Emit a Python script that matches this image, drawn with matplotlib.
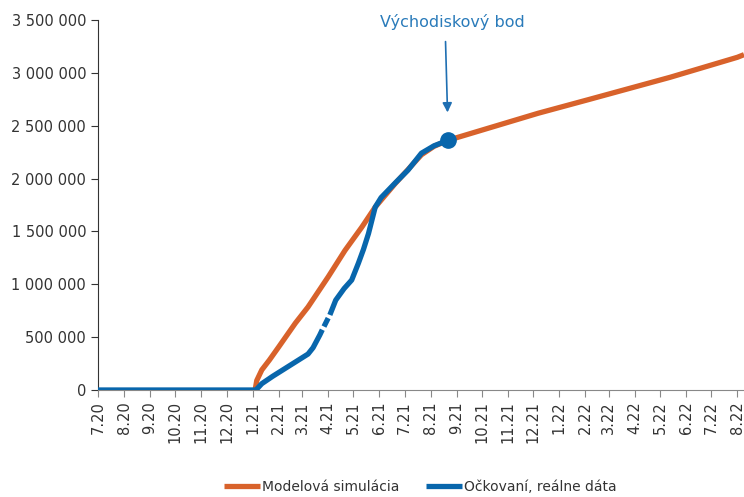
import numpy as np
import pandas as pd
import matplotlib.pyplot as plt
from matplotlib.ticker import FuncFormatter

# Model simulation of cumulative vaccinated people
model_dates = pd.to_datetime([
    "2021-01-04", "2021-01-06", "2021-01-12", "2021-01-21", "2021-02-01",
    "2021-02-21", "2021-03-08", "2021-04-01", "2021-04-21", "2021-05-11",
    "2021-05-27", "2021-06-20", "2021-07-05", "2021-07-21", "2021-08-05",
    "2021-08-22", "2021-12-07", "2022-02-04", "2022-05-13", "2022-08-01",
    "2022-08-09",
])
model_values = [
    0, 90000, 190000, 283000, 406000,
    633000, 785000, 1070000, 1320000, 1540000,
    1730000, 1955000, 2085000, 2225000, 2305000,
    2363000, 2618000, 2745000, 2958000, 3147000,
    3172000,
]

# Real data (vaccinated); NaN leaves a small break in the line
real_dates = pd.to_datetime([
    "2020-07-01", "2021-01-05", "2021-01-12", "2021-01-25", "2021-02-08",
    "2021-02-22", "2021-03-08", "2021-03-14", "2021-03-22", "2021-03-25",
    "2021-03-26", "2021-03-27", "2021-04-01", "2021-04-02", "2021-04-03",
    "2021-04-10", "2021-04-20", "2021-04-29", "2021-05-07", "2021-05-13",
    "2021-05-19", "2021-05-27", "2021-06-03", "2021-06-20", "2021-07-05",
    "2021-07-21", "2021-08-05", "2021-08-22",
])
real_values = [
    0, 0, 60000, 130000, 200000,
    270000, 340000, 400000, 520000, 570000,
    np.nan, 600000, 680000, np.nan, 710000,
    850000, 960000, 1040000, 1200000, 1330000,
    1480000, 1730000, 1820000, 1960000, 2080000,
    2240000, 2310000, 2363000,
]

start_date = pd.Timestamp("2021-08-22")
start_value = 2363000

month_ticks = pd.date_range("2020-07-01", "2022-08-01", freq="MS")
tick_labels = [f"{d.month}.{d:%y}" for d in month_ticks]
y_ticks = np.arange(0, 3500001, 500000)

orange = "#D8622B"
blue = "#0866AC"
txt = "#333333"

plt.rcParams["font.family"] = "DejaVu Sans"

fig = plt.figure(figsize=(7.44, 4.97), dpi=100)
ax = fig.add_axes([98 / 744, 1 - 390 / 497, 1 - 98 / 744, 370 / 497])

ax.plot(model_dates, model_values, color=orange, lw=3.8,
        solid_capstyle="butt", label="Modelová simulácia", zorder=2)
ax.plot(real_dates, real_values, color=blue, lw=3.8,
        solid_capstyle="butt", label="Očkovaní, reálne dáta", zorder=3)
ax.plot([start_date], [start_value], "o", color=blue, ms=11, zorder=4)

# starting point annotation
ax.annotate("", xy=(start_date, start_value), xytext=(-2, 71),
            textcoords="offset points",
            arrowprops=dict(arrowstyle="-|>", color="#1F6FB2", lw=1.2,
                            mutation_scale=14, shrinkA=0, shrinkB=20))
ax.annotate("Východiskový bod", xy=(start_date, start_value), xytext=(3, 85),
            textcoords="offset points", ha="center", va="center",
            fontsize=11.5, color="#2A7BBA")

ax.set_xlim(pd.Timestamp("2020-07-01"), pd.Timestamp("2022-08-09"))
ax.set_ylim(0, 3500000)
ax.set_xticks(month_ticks)
ax.set_xticklabels(tick_labels, rotation=90, fontsize=10.5, color=txt)
ax.set_yticks(y_ticks)
ax.yaxis.set_major_formatter(FuncFormatter(lambda v, p: f"{int(v):,}".replace(",", " ")))
ax.tick_params(axis="y", labelsize=10.5, labelcolor=txt, length=5, color="#333333")
ax.tick_params(axis="x", length=5, color="#888888", pad=3)

for side in ("top", "right"):
    ax.spines[side].set_visible(False)
ax.spines["left"].set_color("#333333")
ax.spines["bottom"].set_color("#888888")

fig.legend(loc="center", bbox_to_anchor=(420 / 744, 1 - 487 / 497), ncol=2,
           frameon=False, fontsize=10, handlelength=2.6, handletextpad=0.15,
           columnspacing=1.9, labelcolor=txt)

fig.savefig("out.png", dpi=100)
